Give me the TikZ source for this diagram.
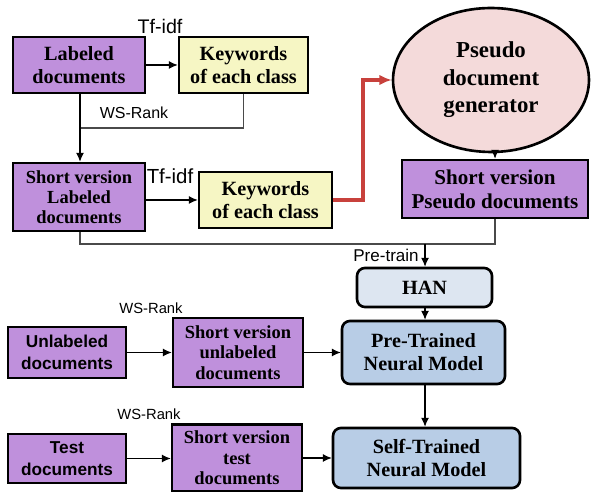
\documentclass[tikz,border=0pt]{standalone}
\usepackage{fontspec}
\setmainfont{Liberation Serif}
\setsansfont{Liberation Sans}
\usepackage{xcolor}
\usepackage{tikz}
\usetikzlibrary{arrows.meta,positioning,calc,shapes.geometric}
\definecolor{dpurple}{HTML}{BF90DC}
\definecolor{kyellow}{HTML}{F6F6C4}
\definecolor{gpink}{HTML}{F4DADA}
\definecolor{hlight}{HTML}{DDE6F1}
\definecolor{mblue}{HTML}{B8CDE6}
\definecolor{rred}{HTML}{C8413C}
\definecolor{wire}{HTML}{4A4A4A}

\tikzset{
  box/.style={draw=black,line width=1.5pt,inner sep=0pt,align=center,
    font=\bfseries\fontsize{11.5}{13.2}\selectfont},
  docbox/.style={box,fill=dpurple},
  keybox/.style={box,fill=kyellow},
  modelbox/.style={box,fill=mblue,rounded corners=4.5pt},
  lbl/.style={font=\sffamily\fontsize{#1}{#1}\selectfont,inner sep=0pt},
  flow/.style={-{Latex[length=5pt,width=4.5pt]},black,line width=0.6pt},
  wireline/.style={wire,line width=0.8pt}
}

\begin{document}
\begin{tikzpicture}[x=0.02cm,y=-0.02cm]
  \useasboundingbox (0,0) rectangle (591,492);
  \fill[white] (0,0) rectangle (591,492);

  % labeled side
  \node[docbox,minimum width=2.64cm,minimum height=1.12cm] (labeled) at (79,65) {Labeled\\documents};
  \node[keybox,minimum width=2.58cm,minimum height=1.12cm] (kw1) at (243.5,65) {Keywords\\of each class};
  \node[docbox,minimum width=2.64cm,minimum height=1.36cm,font=\bfseries\fontsize{10.5}{11.4}\selectfont] (slabeled) at (79,197) {Short version\\Labeled\\documents};
  \node[keybox,minimum width=2.66cm,minimum height=1.12cm] (kw2) at (265.5,200) {Keywords\\of each class};

  % pseudo documents
  \node[ellipse,draw=black,line width=1.5pt,fill=gpink,inner sep=0pt,minimum width=3.92cm,minimum height=2.88cm,
    align=center,font=\bfseries\fontsize{13}{15.6}\selectfont] (gen) at (491,80) {Pseudo\\document\\generator};
  \node[docbox,minimum width=3.72cm,minimum height=1.16cm,font=\bfseries\fontsize{12}{13.8}\selectfont] (spseudo) at (495,189) {Short version\\Pseudo documents};

  % models
  \node[box,fill=hlight,rounded corners=4.5pt,minimum width=2.7cm,minimum height=0.78cm] (han) at (424.5,287.5) {HAN};
  \node[modelbox,minimum width=3.26cm,minimum height=1.26cm] (pretrained) at (423.5,352.5) {Pre-Trained\\Neural Model};
  \node[modelbox,minimum width=3.74cm,minimum height=1.2cm] (selftrained) at (426.5,458) {Self-Trained\\Neural Model};

  % unlabeled and test rows
  \node[docbox,minimum width=2.36cm,minimum height=1.02cm,font=\sffamily\bfseries\fontsize{9.8}{12.3}\selectfont] (unlabeled) at (67,352.5) {Unlabeled\\documents};
  \node[docbox,minimum width=2.6cm,minimum height=1.38cm,font=\bfseries\fontsize{10.5}{11.6}\selectfont] (sunlabeled) at (238,352.5) {Short version\\unlabeled\\documents};
  \node[docbox,minimum width=2.36cm,minimum height=0.98cm,font=\sffamily\bfseries\fontsize{9.8}{12.3}\selectfont] (test) at (67,458.5) {Test\\documents};
  \node[docbox,minimum width=2.6cm,minimum height=1.34cm,font=\bfseries\fontsize{10.5}{11.6}\selectfont] (stest) at (237,458) {Short version\\test\\documents};

  % labels
  \node[lbl=11.2] (tfidf1) at (160,26) {Tf-idf};
  \node[lbl=9.1] (wsrank1) at (134,113) {WS-Rank};
  \node[lbl=11.6] (tfidf2) at (170,176) {Tf-idf};
  \node[lbl=9.7] (pretrain) at (386,255) {Pre-train};
  \node[lbl=8.4] (wsrank2) at (151,308) {WS-Rank};
  \node[lbl=8.4] (wsrank3) at (149,414) {WS-Rank};

  \coordinate (ws) at (80,128);
  \coordinate (merge) at (425,244);

  % connectors
  \draw[flow] (labeled) -- (kw1);
  \draw[wireline] (kw1.south) |- (ws);
  \draw[flow] (labeled.south -| ws) -- (slabeled.north -| ws);
  \draw[flow] (slabeled.east |- kw2) -- (kw2);
  \draw[-{Latex[length=7pt,width=6pt]},rred,line width=2.2pt] (kw2.east) -- ++(30,0) |- (gen.west);
  \draw[flow] (gen.south -| spseudo) -- (spseudo.north);
  \draw[wireline] (slabeled.south -| ws) |- (merge) -| (spseudo.south);
  \draw[flow] (merge) -- (han.north -| merge);
  \draw[flow] (han.south -| merge) -- (pretrained.north -| merge);
  \draw[flow] (unlabeled) -- (sunlabeled);
  \draw[flow] (sunlabeled) -- (pretrained);
  \draw[flow] (pretrained.south -| merge) -- (selftrained.north -| merge);
  \draw[flow] (test.east) -- (stest.west |- test.east);
  \draw[flow] (stest.east |- selftrained) -- (selftrained);
\end{tikzpicture}
\end{document}
